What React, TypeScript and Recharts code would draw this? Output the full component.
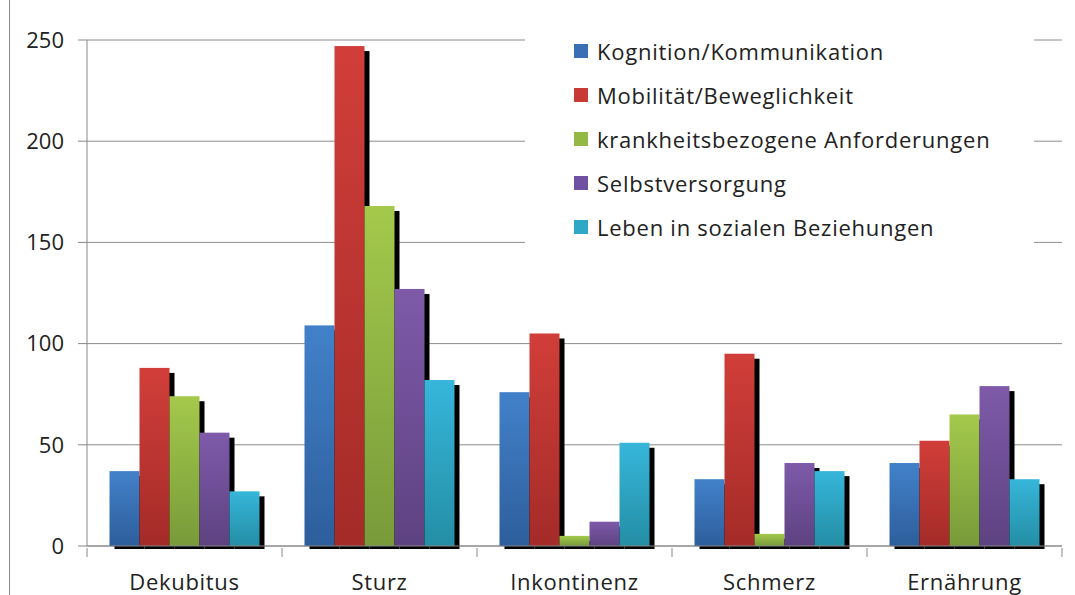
import React from 'react';
import { BarChart, Bar, XAxis, YAxis, CartesianGrid } from 'recharts';

const categories = ['Dekubitus', 'Sturz', 'Inkontinenz', 'Schmerz', 'Ernährung'];
const kognition = [37, 109, 76, 33, 41];
const mobilitaet = [88, 247, 105, 95, 52];
const krankheit = [74, 168, 5, 6, 65];
const selbst = [56, 127, 12, 41, 79];
const leben = [27, 82, 51, 37, 33];
const yTicks = [0, 50, 100, 150, 200, 250];

const seriesNames = [
  'Kognition/Kommunikation',
  'Mobilität/Beweglichkeit',
  'krankheitsbezogene Anforderungen',
  'Selbstversorgung',
  'Leben in sozialen Beziehungen',
];
const seriesKeys = ['k', 'm', 'a', 's', 'l'];
const seriesValues = [kognition, mobilitaet, krankheit, selbst, leben];
const topColors = ['#4281c9', '#d13e39', '#a4c94b', '#7e5aa9', '#36b6da'];
const bottomColors = ['#2d5e9c', '#a42b28', '#789a3a', '#5d4281', '#248ea5'];
const legendColors = ['#3a70b3', '#c73a35', '#93b844', '#7050a0', '#2fa8c8'];

const data = categories.map((c, i) => {
  const row: any = { name: c };
  seriesKeys.forEach((k, j) => {
    row[k] = seriesValues[j][i];
  });
  return row;
});

const FONT = '"Open Sans", Lato, sans-serif';

const ShadowBar = (props: any) => {
  const { x, y, width, height, idx } = props;
  if (height == null || height <= 0) return null;
  return (
    <g>
      <rect x={x + 5} y={y + 5} width={width} height={height - 2} fill="#000" />
      <rect x={x} y={y} width={width} height={height} fill={`url(#grad${idx})`} />
    </g>
  );
};

const BAND = 195;
const XTick = (props: any) => {
  const { x, y, payload, index } = props;
  const isLast = index === categories.length - 1;
  return (
    <g>
      <line x1={x - BAND / 2} x2={x - BAND / 2} y1={y} y2={y + 9} stroke="#888" strokeWidth={1} />
      {isLast && (
        <line x1={x + BAND / 2} x2={x + BAND / 2} y1={y} y2={y + 9} stroke="#888" strokeWidth={1} />
      )}
      <text
        x={x}
        y={y + 42}
        textAnchor="middle"
        fontSize={22}
        letterSpacing={0.7}
        fontFamily={FONT}
        fill="#222"
      >
        {payload.value}
      </text>
    </g>
  );
};

const LegendBox = () => (
  <div
    style={{
      position: 'absolute',
      left: 525,
      top: 22,
      width: 509,
      height: 232,
      background: '#fff',
      boxSizing: 'border-box',
      paddingLeft: 49,
      paddingTop: 7,
      fontFamily: FONT,
      fontSize: 22,
      letterSpacing: 0.75,
      color: '#222',
    }}
  >
    {seriesNames.map((n, i) => (
      <div key={n} style={{ display: 'flex', alignItems: 'center', height: 44 }}>
        <div style={{ width: 14, height: 14, background: legendColors[i], marginRight: 9, flexShrink: 0 }} />
        <span style={{ whiteSpace: 'nowrap' }}>{n}</span>
      </div>
    ))}
  </div>
);

export default function App() {
  return (
    <div style={{ position: 'absolute', left: 0, top: 0, width: 1075, height: 595, background: '#fff' }}>
      <div style={{ position: 'absolute', left: 9, top: 0, width: 1, height: 595, background: '#8a8a8a' }} />
      <BarChart
        width={1075}
        height={595}
        data={data}
        margin={{ top: 40, right: 13, left: 0, bottom: 0 }}
        barCategoryGap={22.5}
        barGap={0}
      >
        <defs>
          {topColors.map((c, i) => (
            <linearGradient key={i} id={`grad${i}`} x1="0" y1="0" x2="0" y2="1">
              <stop offset="0%" stopColor={c} />
              <stop offset="100%" stopColor={bottomColors[i]} />
            </linearGradient>
          ))}
        </defs>
        <CartesianGrid horizontal vertical={false} stroke="#8c8c8c" strokeWidth={1} />
        <XAxis
          dataKey="name"
          height={49}
          tickLine={false}
          tickSize={0}
          axisLine={{ stroke: '#888' }}
          tick={<XTick />}
          interval={0}
        />
        <YAxis
          width={87}
          domain={[0, 250]}
          ticks={yTicks}
          tickSize={9}
          tickMargin={14}
          axisLine={{ stroke: '#888' }}
          tickLine={{ stroke: '#888' }}
          tick={{ fontSize: 22, fontFamily: FONT, fill: '#222' }}
        />
        {seriesKeys.map((k, i) => (
          <Bar
            key={k}
            dataKey={k}
            name={seriesNames[i]}
            fill={legendColors[i]}
            isAnimationActive={false}
            shape={(p: any) => <ShadowBar {...p} idx={i} />}
          />
        ))}
      </BarChart>
      <LegendBox />
    </div>
  );
}
